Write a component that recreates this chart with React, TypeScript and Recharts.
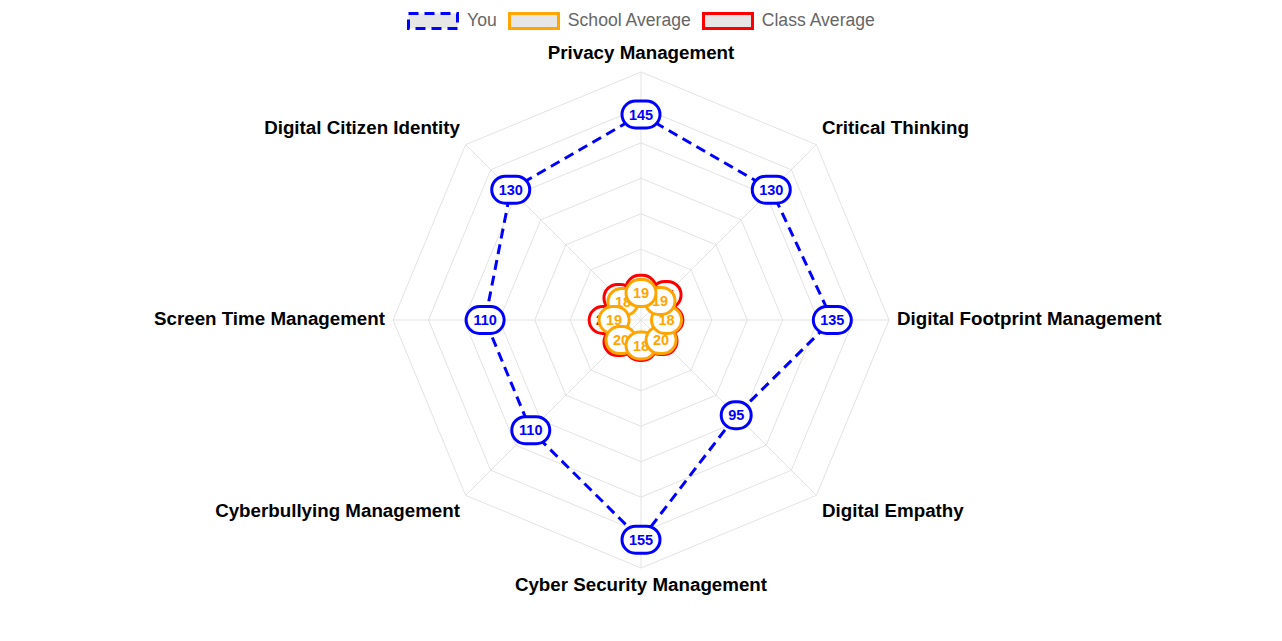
import React from "react";
import { RadarChart, Radar, PolarGrid, PolarAngleAxis, PolarRadiusAxis } from "recharts";

const categories = [
  "Privacy Management",
  "Critical Thinking",
  "Digital Footprint Management",
  "Digital Empathy",
  "Cyber Security Management",
  "Cyberbullying Management",
  "Screen Time Management",
  "Digital Citizen Identity",
];
const youScores = [145, 130, 135, 95, 155, 110, 110, 130];
const schoolAverage = [19, 19, 18, 20, 18, 20, 19, 18];
const classAverage = [22, 25, 19, 21, 19, 22, 26, 22];
const radiusDomain = [0, 175];
const radiusTickCount = 8;

const seriesLegend = [
  { name: "You", color: "#0000ff", dashed: true },
  { name: "School Average", color: "#ffa500", dashed: false },
  { name: "Class Average", color: "#ff0000", dashed: false },
];

const W = 1266;
const H = 625;
const CX = 633;
const CY = 312;
const R = 248;
const FONT = "'Liberation Sans', Arial, Helvetica, sans-serif";

const data = categories.map((category, i) => ({
  category,
  you: youScores[i],
  school: schoolAverage[i],
  cls: classAverage[i],
}));

function AxisTick(props: any) {
  const { payload } = props;
  const a = (payload.coordinate * Math.PI) / 180;
  const cos = Math.cos(a);
  const sin = Math.sin(a);
  const x = CX + (R + 8) * cos;
  const py = CY - (R + 8) * sin;
  const anchor = cos > 0.01 ? "start" : cos < -0.01 ? "end" : "middle";
  let y = py + 5;
  if (sin > 0.99) y = py - 5;
  else if (sin < -0.99) y = py + 15;
  else if (sin > 0.01) y = py - 5;
  else if (sin < -0.01) y = py + 16;
  return (
    <text x={x} y={y} textAnchor={anchor} fontSize={18.75} fontWeight="bold" fill="#000" fontFamily={FONT}>
      {payload.value}
    </text>
  );
}

function Bubble({ x, y, value, color }: { x: number; y: number; value: number; color: string }) {
  const text = String(value);
  const w = Math.max(text.length * 8 + 14, 27);
  const h = 27;
  return (
    <g>
      <rect x={x - w / 2} y={y - h / 2} width={w} height={h} rx={13.5} ry={13.5} fill="#fff" stroke={color} strokeWidth={3} />
      <text x={x} y={y} dy="0.36em" textAnchor="middle" fill={color} fontSize={14.5} fontWeight="bold" fontFamily={FONT}>
        {text}
      </text>
    </g>
  );
}

// polygon + value bubbles; bubbles go last-to-first so the top axis ends up on top
function seriesShape(color: string, dashed: boolean) {
  return (props: any) => {
    const pts: any[] = props.points || [];
    if (!pts.length) return <g />;
    const d = pts.map((p, i) => `${i ? "L" : "M"}${p.x},${p.y}`).join(" ") + " Z";
    return (
      <g>
        <path d={d} fill="none" stroke={color} strokeWidth={3} strokeDasharray={dashed ? "10 6" : undefined} />
        {pts
          .map((p, i) => ({ p, i }))
          .reverse()
          .map(({ p, i }) => (
            <Bubble key={i} x={p.x} y={p.y} value={p.value} color={color} />
          ))}
      </g>
    );
  };
}

function LegendRow() {
  return (
    <div
      style={{
        position: "absolute",
        top: 2,
        left: 0,
        width: W,
        display: "flex",
        justifyContent: "center",
        alignItems: "center",
        fontFamily: FONT,
        fontSize: 17.6,
        color: "#666",
      }}
    >
      {seriesLegend.map((s, i) => (
        <div key={s.name} style={{ display: "flex", alignItems: "center", marginLeft: i === 0 ? 0 : 11 }}>
          <svg width={52} height={18} style={{ display: "block", marginRight: 8 }}>
            <rect
              x={1.5}
              y={1.5}
              width={49}
              height={15}
              fill="#e6e6e6"
              stroke={s.color}
              strokeWidth={3}
              strokeDasharray={s.dashed ? "10 6" : undefined}
            />
          </svg>
          <span>{s.name}</span>
        </div>
      ))}
    </div>
  );
}

export default function App() {
  return (
    <div style={{ position: "relative", width: W, height: H }}>
      <RadarChart width={W} height={H} data={data} cx={CX} cy={CY} outerRadius={R} margin={{ top: 0, right: 0, bottom: 0, left: 0 }}>
        <PolarGrid stroke="#e3e3e3" strokeWidth={1} />
        <PolarAngleAxis dataKey="category" tick={(p: any) => <AxisTick {...p} />} tickLine={false} axisLine={false} />
        <PolarRadiusAxis domain={radiusDomain} tickCount={radiusTickCount} tick={false} axisLine={false} />
        <Radar
          name="Class Average"
          dataKey="cls"
          stroke="#ff0000"
          fill="none"
          shape={seriesShape("#ff0000", false)}
          dot={false}
          isAnimationActive={false}
        />
        <Radar
          name="School Average"
          dataKey="school"
          stroke="#ffa500"
          fill="none"
          shape={seriesShape("#ffa500", false)}
          dot={false}
          isAnimationActive={false}
        />
        <Radar
          name="You"
          dataKey="you"
          stroke="#0000ff"
          fill="none"
          shape={seriesShape("#0000ff", true)}
          dot={false}
          isAnimationActive={false}
        />
      </RadarChart>
      <LegendRow />
    </div>
  );
}
